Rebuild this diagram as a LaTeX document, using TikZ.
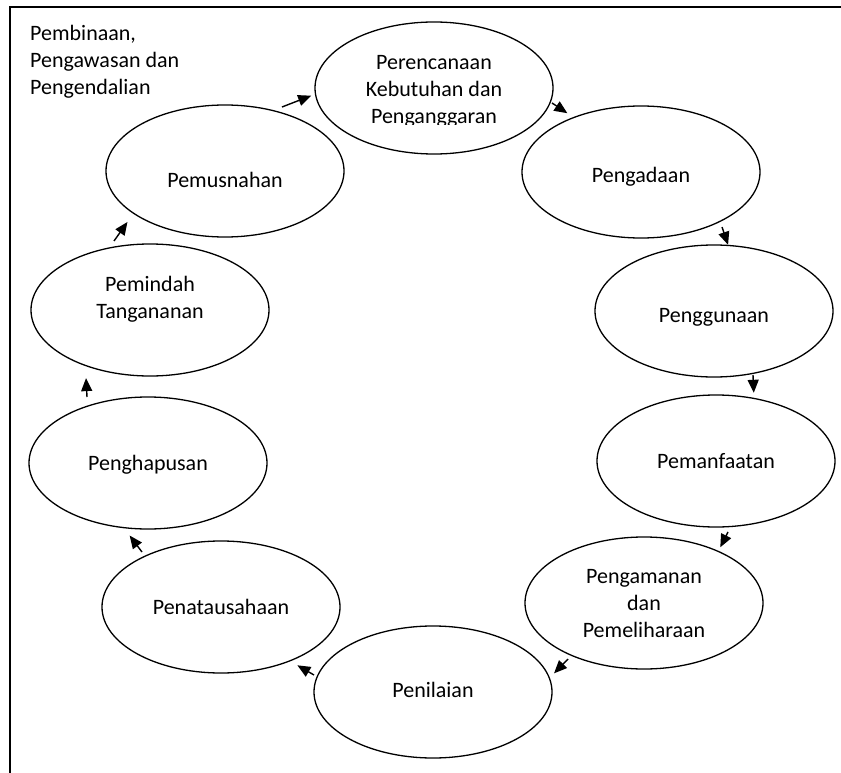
\documentclass[tikz,border=0pt]{standalone}
\usepackage{fontspec}
\setmainfont{Carlito}
\usetikzlibrary{shapes.geometric,arrows.meta}
\begin{document}
\begin{tikzpicture}[x=1pt,y=-1pt,
  stage/.style={ellipse,draw,line width=1.3pt,minimum width=238pt,minimum height=132pt,inner sep=0pt},
  txt/.style={font=\fontsize{22}{27}\selectfont,align=center,inner sep=0pt},
  arr/.style={line width=1.4pt,-{Triangle[length=13pt,width=11pt]}},
  frameline/.style={line width=2pt}]
\useasboundingbox (0,0) rectangle (841,773);
\draw[frameline] (10,773) -- (10,7) -- (841,7);
\node[txt,align=left,anchor=north west] (title) at (30,25) {Pembinaan,\\Pengawasan dan\\Pengendalian};

% stages
\node[stage] (peren)  at (434,88)  {};
\node[stage] (pengad) at (641,172) {};
\node[stage] (pengg)  at (714,311) {};
\node[stage] (pemanf) at (716,461) {};
\node[stage] (pengam) at (644,603) {};
\node[stage] (penil)  at (433,692) {};
\node[stage] (penat)  at (221,607) {};
\node[stage] (pengh)  at (148,463) {};
\node[stage] (pemind) at (150,310) {};
\node[stage] (pemus)  at (225,171) {};

% texts
\begin{scope}
\clip (300,15) rectangle (570,125);
\node[txt] (peren-t) at (434,91) {Perencanaan\\Kebutuhan dan\\Penganggaran};
\end{scope}
\node[txt] (pengad-t) at (641,177) {Pengadaan};
\node[txt] (pengg-t)  at (714,317) {Penggunaan};
\node[txt] (pemanf-t) at (716,461) {Pemanfaatan};
\node[txt] (pengam-t) at (644,604) {Pengamanan\\dan\\Pemeliharaan};
\node[txt] (penil-t)  at (433,690) {Penilaian};
\node[txt] (penat-t)  at (221,607) {Penatausahaan};
\node[txt] (pengh-t)  at (148,465) {Penghapusan};
\node[txt] (pemind-t) at (150,299) {Pemindah\\Tangananan};
\node[txt] (pemus-t)  at (225,180) {Pemusnahan};

% arrow tails
\coordinate (t1) at (282,107);
\coordinate (t2) at (552,103);
\coordinate (t3) at (722,227);
\coordinate (t4) at (753,375);
\coordinate (t5) at (728,532);
\coordinate (t6) at (568,659);
\coordinate (t7) at (314,675);
\coordinate (t8) at (142,552);
\coordinate (t9) at (87,397);
\coordinate (t10) at (114,241);

\draw[arr,shorten >=4pt] (t1) -- (peren.183.7);
\draw[arr,shorten >=7pt] (t2) -- (pengad.141.75);
\draw[arr] (t3) -- (pengg.78);
\draw[arr,shorten >=5pt] (t4) -- (pemanf.59.5);
\draw[arr,shorten >=4pt] (t5) -- (pengam.35.7);
\draw[arr,shorten >=6pt] (t6) -- (penil.7.9);
\draw[arr,shorten >=8pt] (t7) -- (penat.-38);
\draw[arr,shorten >=9pt] (t8) -- (pengh.250.35);
\draw[arr,shorten >=12pt] (t9) -- (pemind.221.6);
\draw[arr,shorten >=10pt] (t10) -- (pemus.205.1);
\end{tikzpicture}
\end{document}
